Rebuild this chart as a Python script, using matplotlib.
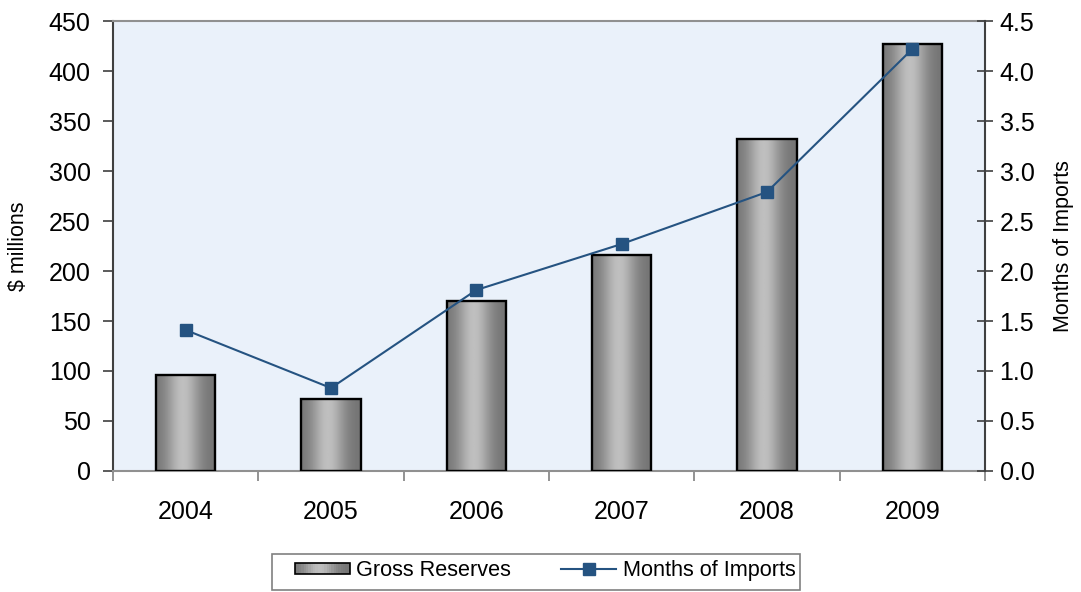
import numpy as np
import matplotlib
matplotlib.use('Agg')
import matplotlib.pyplot as plt
import matplotlib.patches as mpatches
from matplotlib.lines import Line2D
from matplotlib.legend_handler import HandlerBase
from matplotlib.ticker import MultipleLocator, FormatStrFormatter

plt.rcParams['font.family'] = ['Liberation Sans', 'DejaVu Sans']

years = ['2004', '2005', '2006', '2007', '2008', '2009']
gross_reserves = [96, 72, 170, 216, 332, 427]
months_of_imports = [1.41, 0.83, 1.81, 2.27, 2.79, 4.22]

LINE_COLOR = '#255381'
BG_COLOR = '#EAF1FA'

# grey shading across a bar, dark at the edges, light left of centre
t = np.linspace(0, 1, 200)
shade = 0.45 + 0.30 * np.exp(-((t - 0.45) / 0.28) ** 2)


class GradientBarHandler(HandlerBase):
    def create_artists(self, legend, orig_handle, xdescent, ydescent,
                       width, height, fontsize, trans):
        arts = []
        n = 24
        h = height * 0.75
        y0 = -ydescent + (height - h) / 2
        for i in range(n):
            g = np.interp((i + 0.5) / n, t, shade)
            arts.append(mpatches.Rectangle(
                (-xdescent + width * i / n, y0), width / n + 0.3, h,
                facecolor=(g, g, g), edgecolor='none', transform=trans))
        arts.append(mpatches.Rectangle((-xdescent, y0), width, h,
                                       facecolor='none', edgecolor='black',
                                       linewidth=1.2, transform=trans))
        return arts


fig = plt.figure(figsize=(10.81, 5.92), dpi=100)
ax = fig.add_axes([0.1045, 0.2044, 0.8067, 0.7601])
ax.set_facecolor(BG_COLOR)

x = np.arange(len(years))
bars = ax.bar(x, gross_reserves, width=0.41, color='none', edgecolor='black',
              linewidth=1.7, zorder=3)

grad = np.tile(shade, (2, 1))
for b in bars:
    bx, by = b.get_x(), b.get_y()
    ax.imshow(grad, cmap='gray', vmin=0, vmax=1, aspect='auto',
              extent=[bx, bx + b.get_width(), by, by + b.get_height()],
              zorder=2, interpolation='bilinear')
ax.set_xlim(-0.5, len(years) - 0.5)
ax.set_ylim(0, 450)

ax.yaxis.set_major_locator(MultipleLocator(50))
ax.set_xticks(x)
ax.set_xticklabels(years)
ax.set_xticks(np.arange(-0.5, len(years)), minor=True)
ax.tick_params(axis='x', which='major', length=0, labelsize=18, pad=21)
ax.tick_params(axis='x', which='minor', length=7, color='#808080', width=1.2)
ax.tick_params(axis='y', labelsize=18, length=7, width=1.2, color='#404040',
               direction='out', pad=9)
ax.set_ylabel('$ millions', fontsize=15.5)
ax.yaxis.set_label_coords(-0.096, 0.5)

for side in ['top', 'bottom']:
    ax.spines[side].set_color('#909090')
    ax.spines[side].set_linewidth(1.5)
ax.spines['left'].set_color('#404040')
ax.spines['left'].set_linewidth(1.5)
ax.spines['right'].set_visible(False)

ax2 = ax.twinx()
ax2.plot(x, months_of_imports, color=LINE_COLOR, linewidth=1.5, marker='s',
         markersize=8.5, markerfacecolor=LINE_COLOR, markeredgecolor=LINE_COLOR,
         zorder=4)
ax2.set_ylim(0, 4.5)
ax2.yaxis.set_major_locator(MultipleLocator(0.5))
ax2.yaxis.set_major_formatter(FormatStrFormatter('%.1f'))
ax2.tick_params(axis='y', labelsize=18, length=11, width=1.2, color='#404040',
                direction='inout', pad=5)
ax2.set_ylabel('Months of Imports', fontsize=15.5)
ax2.yaxis.set_label_coords(1.078, 0.5)
ax2.spines['right'].set_color('#404040')
ax2.spines['right'].set_linewidth(1.5)
for side in ['top', 'bottom', 'left']:
    ax2.spines[side].set_visible(False)

handles = [
    mpatches.Patch(label='Gross Reserves'),
    Line2D([0], [0], color=LINE_COLOR, linewidth=1.5, marker='s', markersize=8,
           label='Months of Imports'),
]
leg = fig.legend(handles=handles, loc='center', bbox_to_anchor=(545 / 1081, 0.036),
                 ncol=2, fontsize=15.6, frameon=False, handlelength=2.55,
                 handletextpad=0.3, columnspacing=2.3,
                 handler_map={mpatches.Patch: GradientBarHandler()})

# legend box, wider on the left like the original
fig.patches.append(mpatches.Rectangle((272 / 1081, 2 / 592), 528 / 1081, 36 / 592,
                                      transform=fig.transFigure, fill=False,
                                      edgecolor='#808080', linewidth=1.2))

fig.savefig('out.png', dpi=100, facecolor='white')
